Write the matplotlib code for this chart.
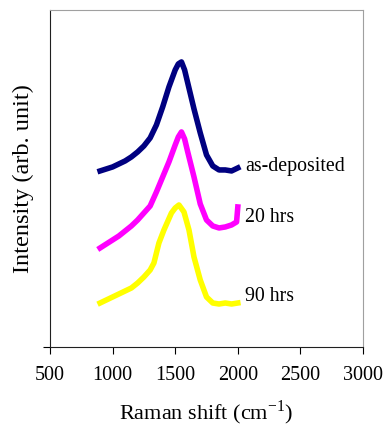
import matplotlib.pyplot as plt

# Raman spectra (intensity in arbitrary units, offset per curve)
shift_dep = [900, 950, 1000, 1050, 1100, 1150, 1200, 1250, 1300, 1350, 1400, 1450,
             1500, 1525, 1550, 1575, 1600, 1650, 1700, 1750, 1800, 1850, 1900, 1950, 2000]
int_dep = [176, 178, 180, 183, 186, 190, 195, 201, 209, 222, 240, 260,
           277, 283, 285, 277, 264, 238, 214, 192, 181, 177, 177, 176, 179]

shift_20 = [900, 950, 1000, 1050, 1100, 1150, 1200, 1250, 1300, 1350, 1400, 1450,
            1500, 1525, 1550, 1575, 1600, 1650, 1700, 1750, 1800, 1850, 1900, 1950, 1990, 2000]
int_20 = [99, 103, 107, 111, 116, 121, 127, 134, 141, 155, 170, 185,
          202, 210, 215, 208, 195, 170, 143, 127, 121, 119, 120, 122, 125, 140]

shift_90 = [900, 950, 1000, 1050, 1100, 1150, 1200, 1250, 1300, 1330, 1370, 1410,
            1470, 1500, 1530, 1570, 1610, 1650, 1700, 1750, 1800, 1850, 1900, 1950, 2000]
int_90 = [44, 47, 50, 53, 56, 59, 64, 70, 77, 84, 104, 117,
          134, 139, 142, 135, 117, 90, 67, 50, 44, 43, 44, 43, 44]

labels = ["as-deposited", "20 hrs", "90 hrs"]
label_y = [180, 129, 50]

plt.rcParams["font.family"] = "Liberation Serif"

fig = plt.figure(figsize=(3.86, 4.30), dpi=100)
ax = fig.add_axes([0.1295, 0.193, 0.811, 0.784])

ax.plot(shift_dep, int_dep, color="#000080", lw=4)
ax.plot(shift_20, int_20, color="#ff00ff", lw=4)
ax.plot(shift_90, int_90, color="#ffff00", lw=4)

for text, y in zip(labels, label_y):
    ax.text(2060, y, text, fontsize=14.3, va="center", ha="left")

ax.set_xlim(500, 3000)
ax.set_ylim(0, 337)
ax.set_xticks([500, 1000, 1500, 2000, 2500, 3000])
ax.set_yticks([0])
ax.set_yticklabels([])
ax.tick_params(axis="x", direction="out", length=5, labelsize=14.5, pad=9)
ax.tick_params(axis="y", direction="out", length=5)

ax.spines["top"].set_color("#a0a0a0")
ax.spines["right"].set_color("#a0a0a0")
ax.spines["left"].set_color("#202020")
ax.spines["bottom"].set_color("#202020")

ax.set_xlabel("Raman shift (cm$^{\\mathregular{-1}}$)", fontsize=16, labelpad=9)
ax.set_ylabel("Intensity (arb. unit)", fontsize=17.5, labelpad=3)

fig.savefig("out.png", dpi=100)
plt.close()
